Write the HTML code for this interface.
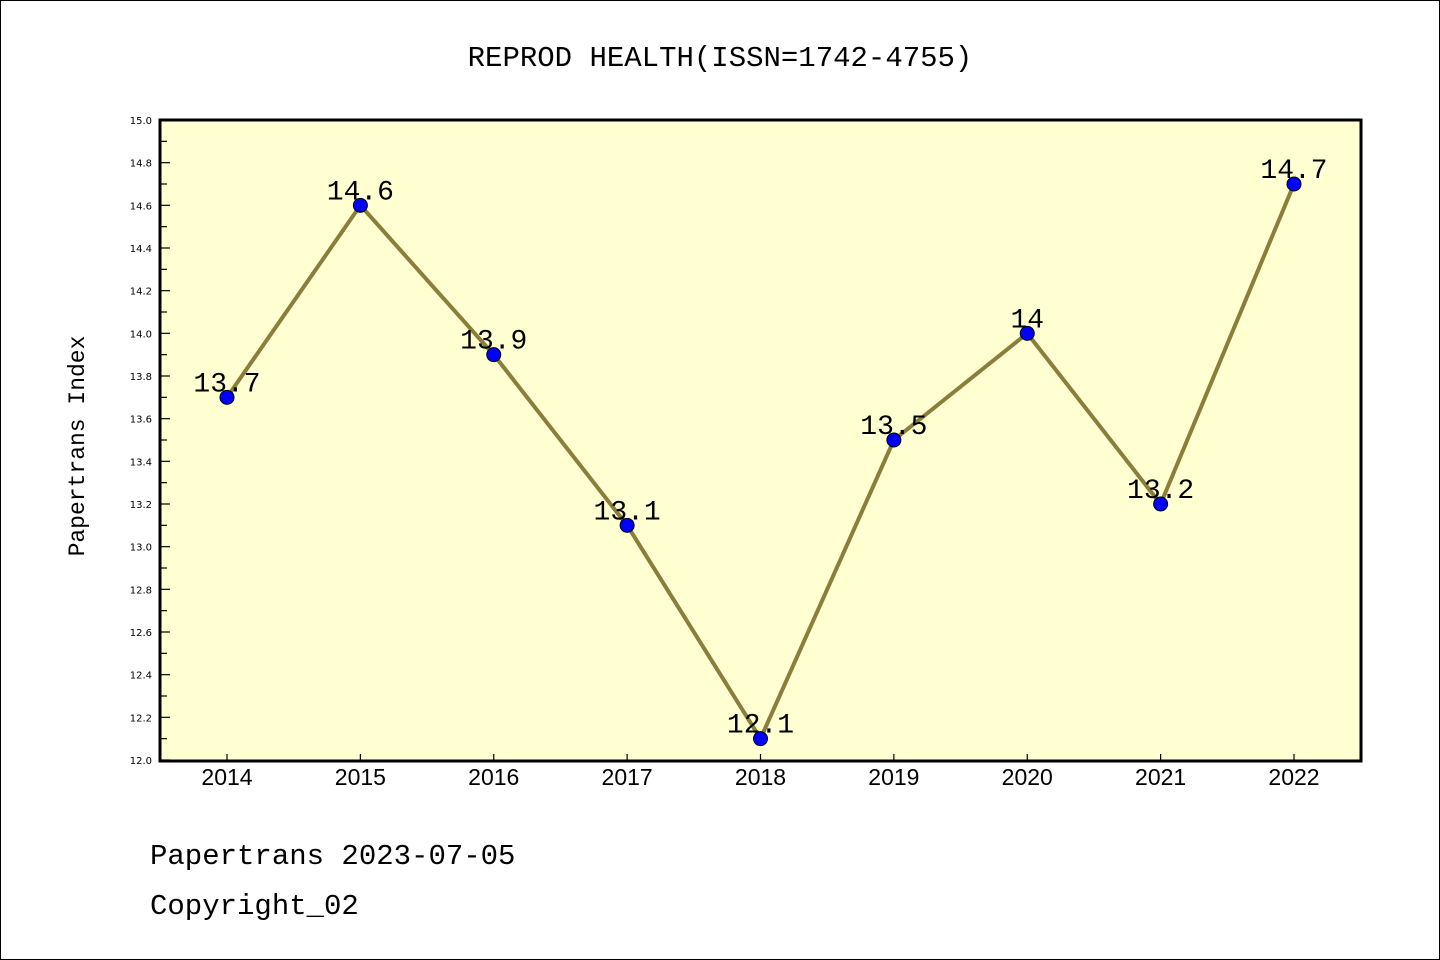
<!DOCTYPE html>
<html><head><meta charset="utf-8">
<style>
html,body{margin:0;padding:0;background:#fff;}
svg{display:block;}
</style></head>
<body>
<svg id="c" width="1440" height="960" xmlns="http://www.w3.org/2000/svg">
<rect x="0.5" y="0.5" width="1439" height="959" fill="#fff" stroke="#000" stroke-width="1"/>
<text x="720" y="66" text-anchor="middle" font-family="'WenQuanYi Zen Hei','Liberation Mono',monospace" font-size="29">REPROD HEALTH(ISSN=1742-4755)</text>
<rect x="160" y="120" width="1201" height="641" fill="#ffffd2"/>
<g id="axes"></g>
<g id="series"></g>
<rect x="160" y="120" width="1201" height="641" fill="none" stroke="#000" stroke-width="3"/>
<text transform="translate(84,446) rotate(-90)" text-anchor="middle" font-family="'WenQuanYi Zen Hei','Liberation Mono',monospace" font-size="23">Papertrans Index</text>
<text x="150" y="864" font-family="'WenQuanYi Zen Hei','Liberation Mono',monospace" font-size="29">Papertrans 2023-07-05</text>
<text x="150" y="914" font-family="'WenQuanYi Zen Hei','Liberation Mono',monospace" font-size="29">Copyright_02</text>
</svg>
<script>
const years = ["2014","2015","2016","2017","2018","2019","2020","2021","2022"];
const values = [13.7,14.6,13.9,13.1,12.1,13.5,14.0,13.2,14.7];
const valueLabels = ["13.7","14.6","13.9","13.1","12.1","13.5","14","13.2","14.7"];
const yTicks = ["12.0","12.2","12.4","12.6","12.8","13.0","13.2","13.4","13.6","13.8","14.0","14.2","14.4","14.6","14.8","15.0"];
const yMin = 12.0, yMax = 15.0;
const NS = "http://www.w3.org/2000/svg";
function yS(v){ return 760 - (v - yMin) / (yMax - yMin) * 640; }
function xS(i){ return 227 + i * (1294 - 227) / (years.length - 1); }
function mk(tag, attrs, parent){ const e = document.createElementNS(NS, tag); for (const k in attrs) e.setAttribute(k, attrs[k]); parent.appendChild(e); return e; }
const axes = document.getElementById('axes');
const series = document.getElementById('series');
// y ticks
for (let v = yMin; v <= yMax + 1e-9; v += 0.1) {
  const major = Math.round(v * 10) % 2 === 0;
  const t = mk('line', {x1:160, x2:160 + (major ? 10 : 7), y1:yS(v), y2:yS(v), stroke:'#000', 'stroke-width':1.2}, axes);
  
  
}
yTicks.forEach(s => {
  const t = mk('text', {x:152, y:yS(parseFloat(s)) + 4, 'text-anchor':'end', 'font-family':"'DejaVu Sans',sans-serif", 'font-size':10}, axes);
  t.textContent = s;
  
  
});
years.forEach((y, i) => {
  const t = mk('line', {x1:xS(i), x2:xS(i), y1:761, y2:754, stroke:'#000', 'stroke-width':1.2}, axes);
  
  
  const l = mk('text', {x:xS(i), y:785, 'text-anchor':'middle', 'font-family':"'Liberation Sans',sans-serif", 'font-size':23}, axes);
  l.textContent = y;
  
  
});
const pts = values.map((v, i) => xS(i) + ',' + yS(v)).join(' ');
const line = mk('polyline', {points:pts, fill:'none', stroke:'#8b7d3a', 'stroke-width':4, 'stroke-linejoin':'round'}, series);


values.forEach((v, i) => {
  const c = mk('circle', {cx:xS(i), cy:yS(v), r:7, fill:'#0000ff', stroke:'#000', 'stroke-width':1}, series);
  
  
  const t = mk('text', {x:xS(i), y:yS(v) - 6, 'text-anchor':'middle', 'font-family':"'WenQuanYi Zen Hei','Liberation Mono',monospace", 'font-size':28}, series);
  t.textContent = valueLabels[i];
  
  
});
</script>
</body></html>
